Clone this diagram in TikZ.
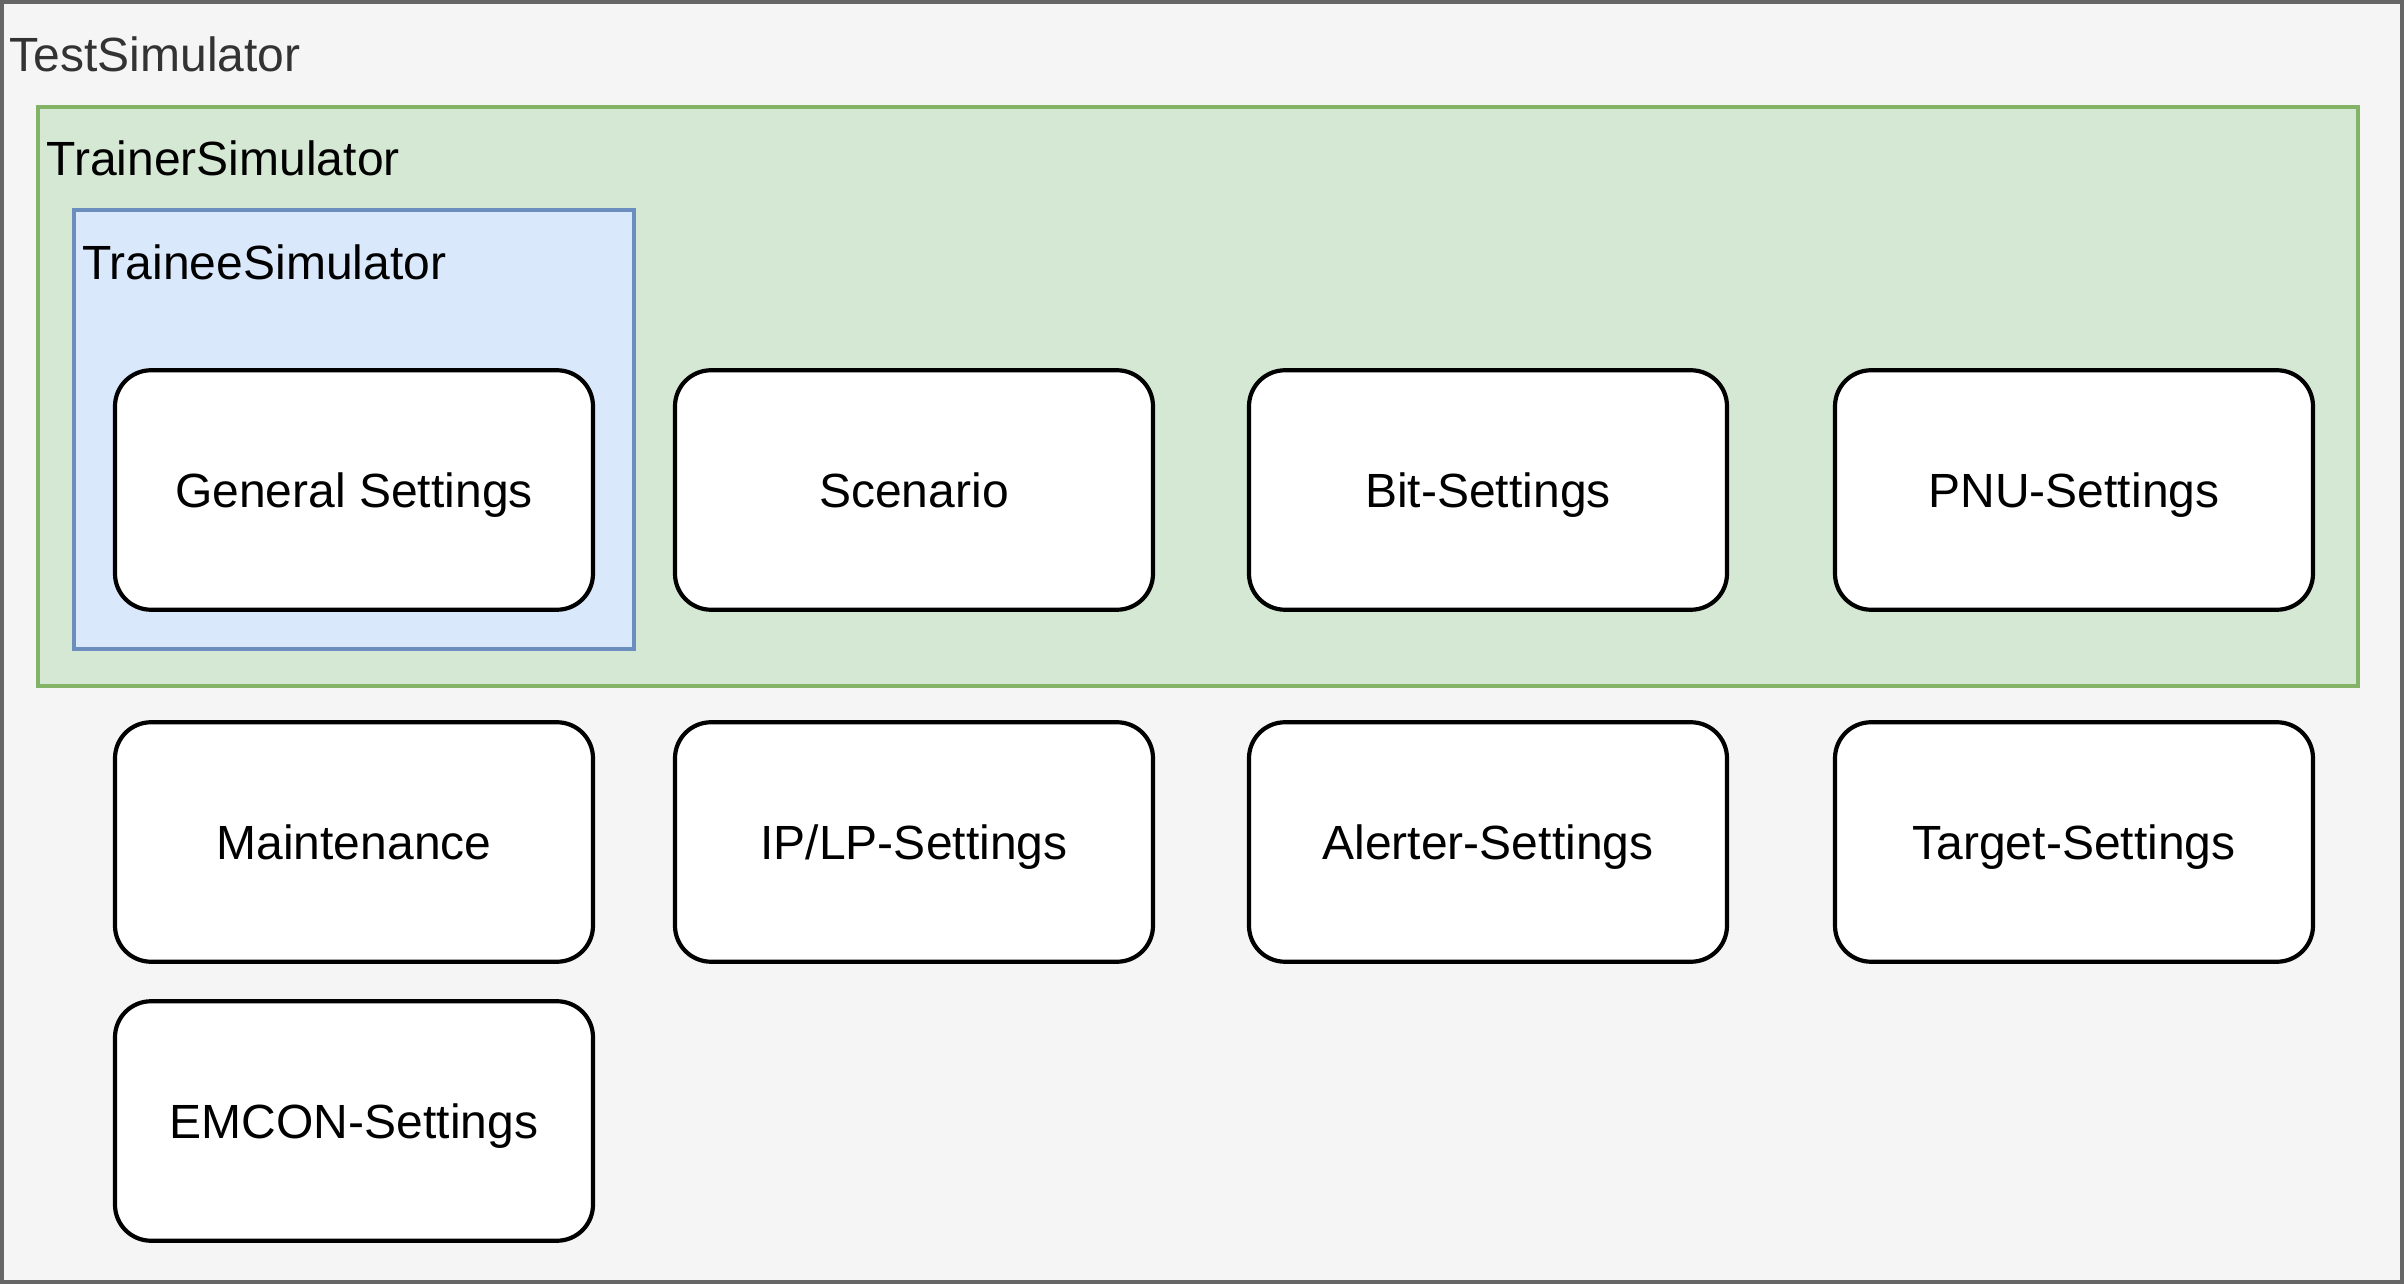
\documentclass[tikz,border=0pt]{standalone}
\usepackage{fontspec}
\setmainfont{Liberation Sans}
\usepackage{tikz}

\definecolor{testfill}{HTML}{F5F5F5}
\definecolor{testline}{HTML}{666666}
\definecolor{testtext}{HTML}{333333}
\definecolor{trainerfill}{HTML}{D5E8D4}
\definecolor{trainerline}{HTML}{82B366}
\definecolor{traineefill}{HTML}{DAE8FC}
\definecolor{traineeline}{HTML}{6C8EBF}

\tikzset{
	simframe/.style={line width=0.4mm},
	simlabel/.style={anchor=base west,inner sep=0pt,font=\fontsize{13.66pt}{16pt}\selectfont},
	settingbox/.style={draw=black,fill=white,line width=0.42mm,rounded corners=3.6mm,
		minimum width=47.8mm,minimum height=23.95mm,inner sep=0pt,
		text height=3.44mm,text depth=0pt,font=\fontsize{13.66pt}{16pt}\selectfont}
}

\begin{document}
\begin{tikzpicture}[x=0.1mm,y=-0.1mm]
			\useasboundingbox (0,0) rectangle (2404,1284);
			
			% containers
			\draw[simframe,fill=testfill,draw=testline] (2,2) rectangle (2402,1282);
			\draw[simframe,fill=trainerfill,draw=trainerline] (38,107.5) rectangle (2358,686);
			\draw[simframe,fill=traineefill,draw=traineeline] (74,210.5) rectangle (634,649.5);
			
			\node[simlabel,text=testtext] (testlbl) at (9,71.7) {TestSimulator};
			\node[simlabel] (trainerlbl) at (46,175.7) {TrainerSimulator};
			\node[simlabel] (traineelbl) at (81.7,280) {TraineeSimulator};
			
			% settings pages
			\foreach \n/\x/\y/\t in {gen/354/490/{General Settings}, scen/914/490/Scenario,
				bit/1488/490/Bit-Settings, pnu/2074/490/PNU-Settings,
				maint/354/842/Maintenance, iplp/914/842/{IP/LP-Settings},
				alert/1488/842/Alerter-Settings, target/2074/842/Target-Settings,
				emcon/354/1121/EMCON-Settings}{
				\node[settingbox] (\n) at (\x,\y) {\t};
			}
		\end{tikzpicture}
\end{document}
